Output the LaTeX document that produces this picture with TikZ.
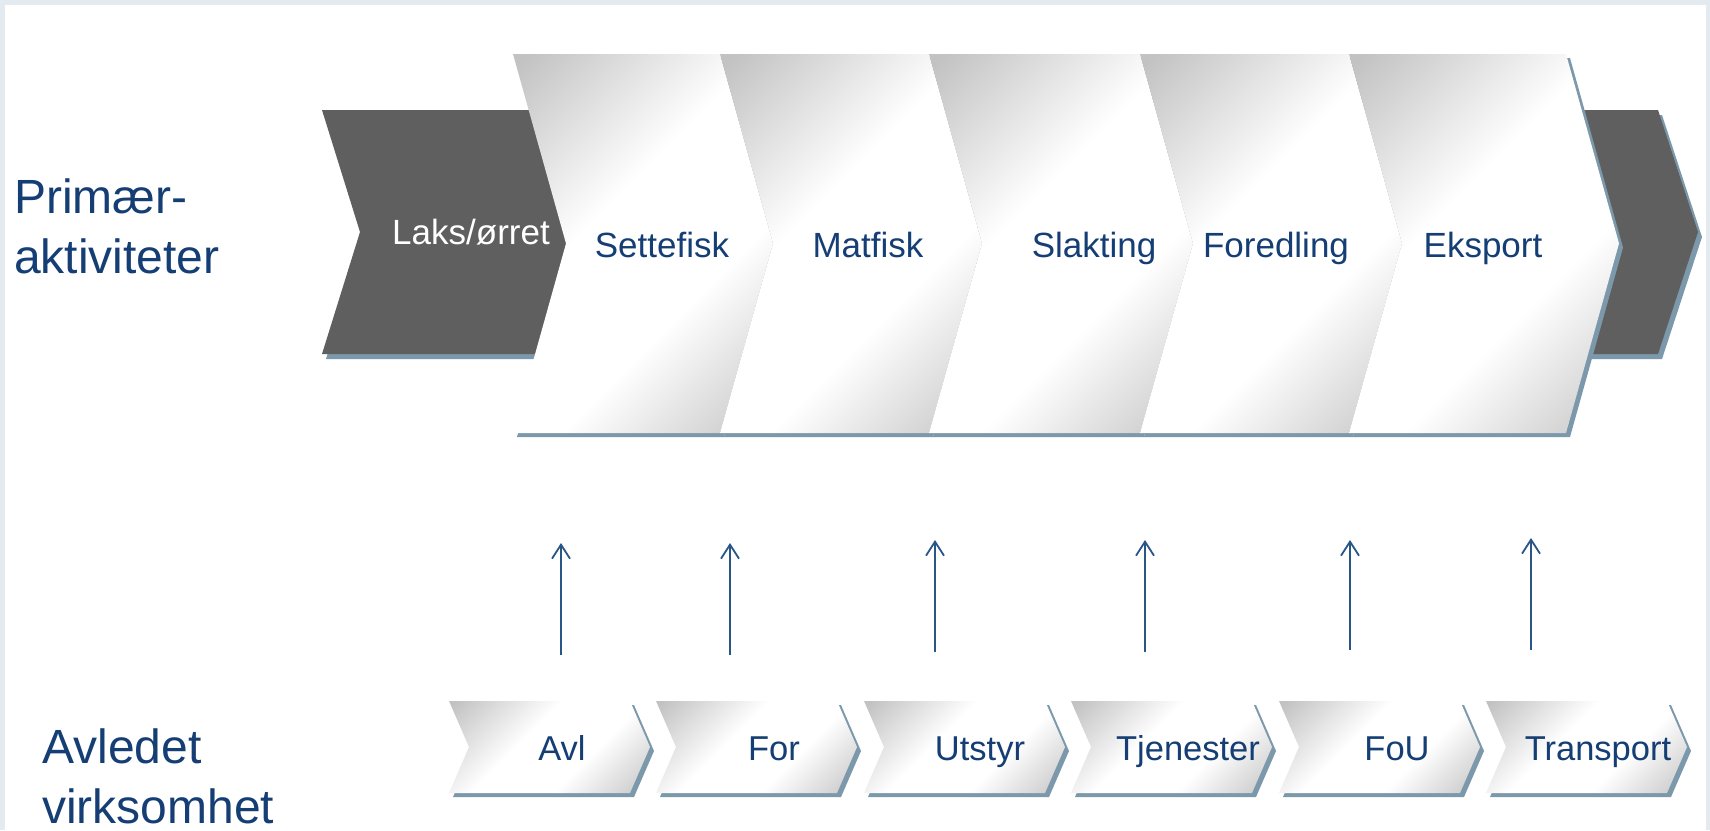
\documentclass[tikz,border=0pt]{standalone}
\usepackage{fontspec}
\setmainfont{Liberation Sans}
\usetikzlibrary{arrows.meta}
\definecolor{frameclr}{RGB}{228,235,240}
\definecolor{darkchev}{RGB}{95,95,95}
\definecolor{shadowclr}{RGB}{124,153,172}
\definecolor{txtblue}{RGB}{20,62,116}
\definecolor{arrowblue}{RGB}{40,86,135}
\definecolor{cgA}{RGB}{194,194,194}
\definecolor{cgB}{RGB}{200,200,200}
\pgfdeclarehorizontalshading{chevshade}{100bp}{color(0bp)=(cgA); color(16bp)=(cgA); color(42bp)=(white); color(62bp)=(white); color(84bp)=(cgB); color(100bp)=(cgB)}
\newcommand\chevshape[6]{% style, left, right, top, bottom, depth
  \path[#1] (#2,#4) -- (#3,#4) -- ({#3+#6},{(#4+#5)/2}) -- (#3,#5) -- (#2,#5) -- ({#2+#6},{(#4+#5)/2}) -- cycle;}
\begin{document}
\begin{tikzpicture}[x=1pt,y=-1pt,
  whitechev/.style={shading=chevshade, shading angle=-45},
  darkfill/.style={fill=darkchev},
  shadowfill/.style={fill=shadowclr},
  biglabel/.style={font=\fontsize{35}{40}\selectfont, text=txtblue, inner sep=0pt, anchor=base},
  smalllabel/.style={font=\fontsize{34.5}{40}\selectfont, text=txtblue, inner sep=0pt, anchor=base},
  sidelabel/.style={font=\fontsize{48}{60}\selectfont, text=txtblue, inner sep=0pt, anchor=base west, align=left},
  uparrow/.style={draw=arrowblue, line width=1.8pt, -{Straight Barb[length=14pt,width=18pt,line width=1.8pt]}}
]
\useasboundingbox (0,0) rectangle (1710,830);
\fill[frameclr] (0,0) rectangle (1710,830);
\fill[white] (5,5) rectangle (1706,830);

% dark chevrons (behind)
\begin{scope}[shift={(4,5)}]
  \path[shadowfill] (322,110) -- (600,110) -- (600,354) -- (322,354) -- (360,232) -- cycle;
  \path[shadowfill] (1570,110) -- (1658,110) -- (1698,232) -- (1658,354) -- (1570,354) -- cycle;
\end{scope}
\path[darkfill] (322,110) -- (600,110) -- (600,354) -- (322,354) -- (360,232) -- cycle;
\path[darkfill] (1570,110) -- (1658,110) -- (1698,232) -- (1658,354) -- (1570,354) -- cycle;

% white chevrons of the primary chain
\begin{scope}[shift={(4,4)}]
  \foreach \a/\b in {513/720, 720/929, 929/1140, 1140/1349, 1349/1566}
    {\chevshape{shadowfill}{\a}{\b}{54}{433}{53}}
\end{scope}
\foreach \a/\b in {513/720, 720/929, 929/1140, 1140/1349, 1349/1566}
  {\chevshape{whitechev}{\a}{\b}{54}{433}{53}}

% small chevrons
\begin{scope}[shift={(4,4)}]
  \foreach \a in {449, 656, 864, 1071, 1279, 1486}
    {\chevshape{shadowfill}{\a}{\a+181}{701}{793}{20}}
\end{scope}
\foreach \a in {449, 656, 864, 1071, 1279, 1486}
  {\chevshape{whitechev}{\a}{\a+181}{701}{793}{20}}

% labels
\node[biglabel, text=white] (laks) at (471,244) {Laks/ørret};
\node[biglabel] (sette) at (662,257) {Settefisk};
\node[biglabel] (mat) at (868,257) {Matfisk};
\node[biglabel] (slakt) at (1094,257) {Slakting};
\node[biglabel] (fored) at (1276,257) {Foredling};
\node[biglabel] (eksp) at (1483,257) {Eksport};

\node[smalllabel] (avl) at (562,760) {Avl};
\node[smalllabel] (for) at (774,760) {For};
\node[smalllabel] (utst) at (980,760) {Utstyr};
\node[smalllabel] (tjen) at (1188,760) {Tjenester};
\node[smalllabel] (fou) at (1397,760) {FoU};
\node[smalllabel] (trans) at (1598,760) {Transport};

\node[sidelabel] (prim) at (14,273) {Primær-\\aktiviteter};
\node[sidelabel] (avled) at (42,823) {Avledet\\virksomhet};

% arrows
\foreach \i/\x/\yb/\yt in {1/561/655/543, 2/730/655/543, 3/935/652/540, 4/1145/652/540, 5/1350/650/540, 6/1531/650/538} {
  \coordinate (ab\i) at (\x,\yb);
  \coordinate (at\i) at (\x,\yt);
  \draw[uparrow] (ab\i) -- (at\i);
}
\end{tikzpicture}
\end{document}
